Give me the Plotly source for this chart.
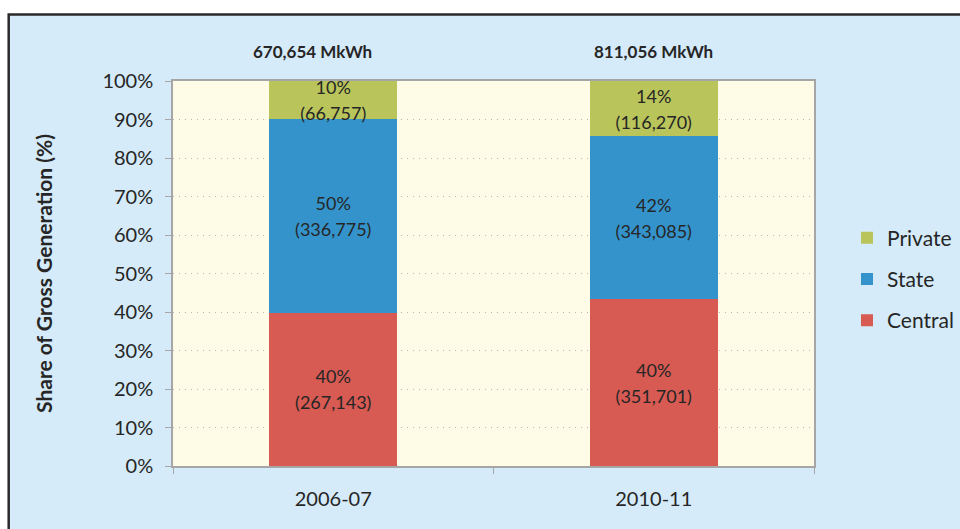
import plotly.graph_objects as go

years = ["2006-07", "2010-11"]
central = [267143, 351701]
state = [336775, 343085]
private = [66757, 116270]
central_pct = ["40%", "40%"]
state_pct = ["50%", "42%"]
private_pct = ["10%", "14%"]
totals = ["670,654 MkWh", "811,056 MkWh"]

colors = {"Central": "#D75A53", "State": "#3493CB", "Private": "#B9C55B"}
ranks = {"Private": 1, "State": 2, "Central": 3}
FONT = "Lato, 'Open Sans', sans-serif"
TXT = "#262626"

def labels(pcts, vals):
    return [f"<span style='font-size:18px'>{p}</span><br><span style='font-size:18px'>({v:,})</span>"
            for p, v in zip(pcts, vals)]

fig = go.Figure()
for name, vals, pcts in [("Central", central, central_pct),
                         ("State", state, state_pct),
                         ("Private", private, private_pct)]:
    fig.add_trace(go.Bar(
        x=years, y=vals, name=name, legendgroup=name, legendrank=ranks[name],
        marker=dict(color=colors[name], line=dict(width=0)),
        text=labels(pcts, vals), textposition="inside", insidetextanchor="middle",
        textangle=0, constraintext="none",
        textfont=dict(family=FONT, size=20, color=TXT),
        hoverinfo="skip",
    ))

annotations = []
shifts = [-21, 0]
for yr, t, s in zip(years, totals, shifts):
    annotations.append(dict(x=yr, y=1.0, xref="x", yref="paper", yanchor="bottom",
                            yshift=17, xshift=s, showarrow=False, text=f"<b>{t}</b>",
                            font=dict(family=FONT, size=17, color=TXT)))

L, R, T, B = 173, 146, 81, 63
W, H = 960, 529
pw, ph = W - L - R, H - T - B
def px(x): return (x - L) / pw
def py(y): return (H - B - y) / ph

shapes = [
    dict(type="rect", xref="paper", yref="paper", x0=px(-20), x1=px(W + 20), y0=py(14), y1=py(-20),
         fillcolor="white", line=dict(width=0), layer="below"),
    dict(type="rect", xref="paper", yref="paper", x0=px(-20), x1=px(8.5), y0=py(H + 20), y1=py(-20),
         fillcolor="white", line=dict(width=0), layer="below"),
    dict(type="rect", xref="paper", yref="paper", x0=px(8.7), x1=px(W + 40), y0=py(H + 40), y1=py(14.5),
         fillcolor="rgba(0,0,0,0)", line=dict(width=2.5, color="#2A2A2A")),
]

fig.update_layout(
    width=W, height=H,
    margin=dict(l=L, r=R, t=T, b=B, autoexpand=False),
    barmode="stack", barnorm="percent", bargap=0.6,
    paper_bgcolor="#D5EBF9", plot_bgcolor="#FEFCE6",
    font=dict(family=FONT, size=18, color=TXT),
    showlegend=True,
    legend=dict(traceorder="grouped", tracegroupgap=11,
                x=px(847), xanchor="left", y=py(279), yanchor="middle",
                font=dict(family=FONT, size=21, color=TXT),
                bgcolor="rgba(0,0,0,0)", itemclick=False),
    annotations=annotations,
    shapes=shapes,
    xaxis=dict(type="category", tickson="boundaries", ticks="outside", ticklen=6,
               tickcolor="#A6A6A6", showline=True, linecolor="#A6A6A6", linewidth=1.5,
               mirror=True, showgrid=False, ticklabelstandoff=14, automargin=False,
               tickfont=dict(family=FONT, size=20, color=TXT)),
    yaxis=dict(range=[0, 100], dtick=10, ticksuffix="%", ticks="outside", ticklen=6,
               tickcolor="#A6A6A6", showline=True, linecolor="#A6A6A6", linewidth=1.5,
               mirror=True, showgrid=True, gridcolor="#B8B8B8", griddash="1px,5px", gridwidth=1,
               zeroline=False, ticklabelstandoff=8, automargin=False,
               tickfont=dict(family=FONT, size=20, color=TXT),
               title=dict(text="<b>Share of Gross Generation (%)</b>", standoff=44,
                          font=dict(family=FONT, size=21, color=TXT))),
)

fig.write_html("out.html", config={"displayModeBar": False},
               post_script="document.body.style.margin='0px';document.body.style.overflow='hidden';")
